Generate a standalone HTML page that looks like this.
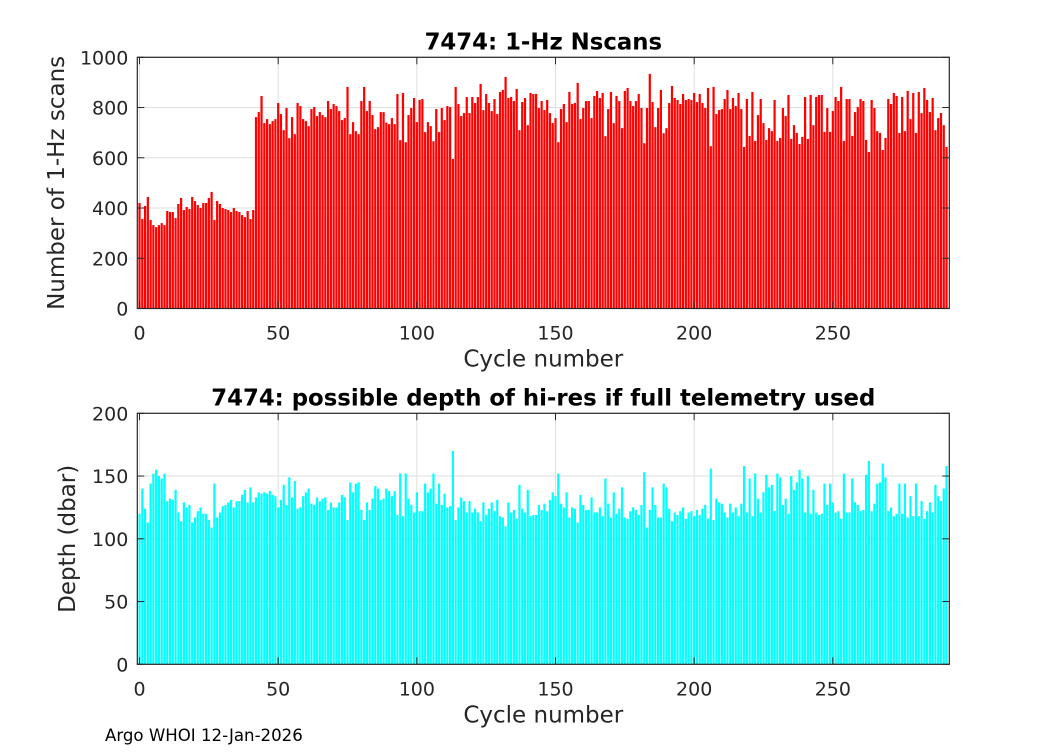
<!DOCTYPE html>
<html><head><meta charset="utf-8">
<style>
html,body{margin:0;padding:0;background:#fff;}
svg text{font-family:"DejaVu Sans","Liberation Sans",sans-serif;}
</style></head>
<body>
<svg id="fig" width="1050" height="750" xmlns="http://www.w3.org/2000/svg">
<rect width="1050" height="750" fill="#fff"/>
<g id="top"></g><g id="bot"></g>
<text x="105" y="741" font-size="16.6" fill="#000">Argo WHOI 12-Jan-2026</text>
</svg>
<script>
const nscans = [420,356,408,444,352,332,324,332,340,332,388,384,384,360,416,440,392,404,396,444,428,412,400,420,420,440,464,352,428,416,400,396,392,384,400,388,384,372,364,388,356,392,
762,782,846,738,754,734,746,754,818,774,710,798,678,762,694,818,806,754,746,726,794,802,766,782,770,762,826,794,814,806,786,750,758,882,694,742,706,694,826,882,786,826,770,714,722,782,782,740,734,758,734,854,
670,858,662,770,798,838,742,830,834,702,742,726,666,794,702,798,750,806,802,595,882,814,766,778,842,778,842,818,842,894,790,854,818,786,834,774,862,870,922,838,842,826,874,710,822,838,730,858,854,854,798,826,790,830,778,738,758,662,794,814,742,862,814,818,898,754,798,826,826,758,846,866,838,858,686,794,862,738,846,826,718,866,878,826,806,826,854,798,658,798,934,822,722,798,870,698,718,818,886,838,830,
814,854,830,834,830,858,822,854,818,798,878,646,882,774,790,794,834,870,794,838,806,858,794,643,834,687,862,667,770,834,738,671,718,706,830,667,679,798,766,850,675,730,699,655,683,842,675,850,730,842,850,850,703,798,703,786,842,826,882,667,834,834,687,782,802,834,826,671,623,830,798,706,699,631,679,834,814,858,846,699,842,706,866,754,858,699,862,778,878,830,782,838,710,758,778,730,643];
const depth = [120,140,124,113,144,152,155,150,148,152,130,132,131,139,121,114,129,125,127,113,117,122,125,120,120,115,109,144,117,121,126,127,129,131,125,130,130,135,139,129,141,129,133,137,136,137,136,138,135,134,125,131,143,127,149,133,146,124,125,134,137,140,128,127,133,130,132,133,123,129,125,125,129,135,133,115,145,137,144,145,123,115,129,123,132,142,140,131,132,140,138,134,138,119,
152,118,152,132,127,121,137,122,122,144,137,140,152,128,144,127,136,125,126,170,115,125,133,130,121,130,121,124,121,114,129,119,124,129,122,131,118,117,110,129,121,123,116,143,124,121,139,118,119,119,127,123,128,122,131,137,134,152,128,125,137,117,125,124,113,135,127,123,123,133,121,121,125,118,148,128,117,137,120,124,141,117,116,122,125,123,119,127,153,109,123,141,127,117,
117,144,141,124,114,121,119,122,125,116,121,122,118,123,119,124,127,116,156,115,132,129,128,121,117,128,121,125,118,128,158,121,148,118,152,132,121,137,151,141,143,122,152,149,127,132,120,150,139,145,155,148,121,150,120,139,121,119,120,144,127,144,129,121,122,116,152,121,121,148,129,127,122,123,151,162,122,128,144,145,160,149,122,125,118,120,144,120,144,117,134,118,144,118,130,116,122,129,121,143,134,130,140,158];
const xTicks = [0,50,100,150,200,250];
const topYTicks = [0,200,400,600,800,1000];
const botYTicks = [0,50,100,150,200];

const NS='http://www.w3.org/2000/svg';
function mk(tag, attrs, parent){const e=document.createElementNS(NS,tag);for(const k in attrs)e.setAttribute(k,attrs[k]);parent.appendChild(e);return e;}
const L=137.3,R=949.3,XMIN=-0.8,XMAX=292;
const xs=v=>L+(v-XMIN)/(XMAX-XMIN)*(R-L);

function panel(g, top, bot, ymax, yTicks, values, color, title, ylabel, key){
  const ys=v=>bot-(v/ymax)*(bot-top);
  const grid=mk('g',{},g);
  
  
  xTicks.forEach(t=>{mk('line',{x1:xs(t),x2:xs(t),y1:top,y2:bot,stroke:'#dfdfdf','stroke-width':1},grid);});
  yTicks.forEach(t=>{mk('line',{x1:L,x2:R,y1:ys(t),y2:ys(t),stroke:'#dfdfdf','stroke-width':1},grid);});
  const bars=mk('g',{},g);
  
  
  const bw=0.8*(R-L)/(XMAX-XMIN);
  values.forEach((v,i)=>{
    const r=mk('rect',{x:xs(i)-bw/2,y:ys(v),width:bw,height:bot-ys(v),fill:color},bars);
    
    
  });
  const ax=mk('rect',{x:L,y:top,width:R-L,height:bot-top,fill:'none',stroke:'#262626','stroke-width':1.2},g);
  
  
  xTicks.forEach(t=>{
    mk('line',{x1:xs(t),x2:xs(t),y1:bot,y2:bot-7,stroke:'#262626'},g);
    mk('line',{x1:xs(t),x2:xs(t),y1:top,y2:top+7,stroke:'#262626'},g);
    const tx=mk('text',{x:xs(t),y:bot+31,'font-size':19,fill:'#262626','text-anchor':'middle'},g);
    tx.textContent=t;
    
    
  });
  yTicks.forEach(t=>{
    mk('line',{x1:L,x2:L+7,y1:ys(t),y2:ys(t),stroke:'#262626'},g);
    mk('line',{x1:R,x2:R-7,y1:ys(t),y2:ys(t),stroke:'#262626'},g);
    const tx=mk('text',{x:L-9,y:ys(t)+7,'font-size':19,fill:'#262626','text-anchor':'end'},g);
    tx.textContent=t;
    
    
  });
  const tt=mk('text',{x:(L+R)/2,y:top-8,'font-size':22.8,'font-weight':'bold',fill:'#000','text-anchor':'middle'},g);
  tt.textContent=title;
  
  
  const xl=mk('text',{x:(L+R)/2,y:bot+58,'font-size':23,fill:'#262626','text-anchor':'middle'},g);
  xl.textContent='Cycle number';
  
  
  const cy=(top+bot)/2;
  const yl=mk('text',{x:0,y:0,'font-size':23,fill:'#262626','text-anchor':'middle',transform:`translate(${key==='top'?64:75},${cy}) rotate(-90)`},g);
  yl.textContent=ylabel;
  
  
}
panel(document.getElementById('top'),57.3,308.5,1000,topYTicks,nscans,'#ff0000','7474: 1-Hz Nscans','Number of 1-Hz scans','top');
panel(document.getElementById('bot'),413.3,664.3,200,botYTicks,depth,'#00ffff','7474: possible depth of hi-res if full telemetry used','Depth (dbar)','bottom');
</script>
</body></html>
